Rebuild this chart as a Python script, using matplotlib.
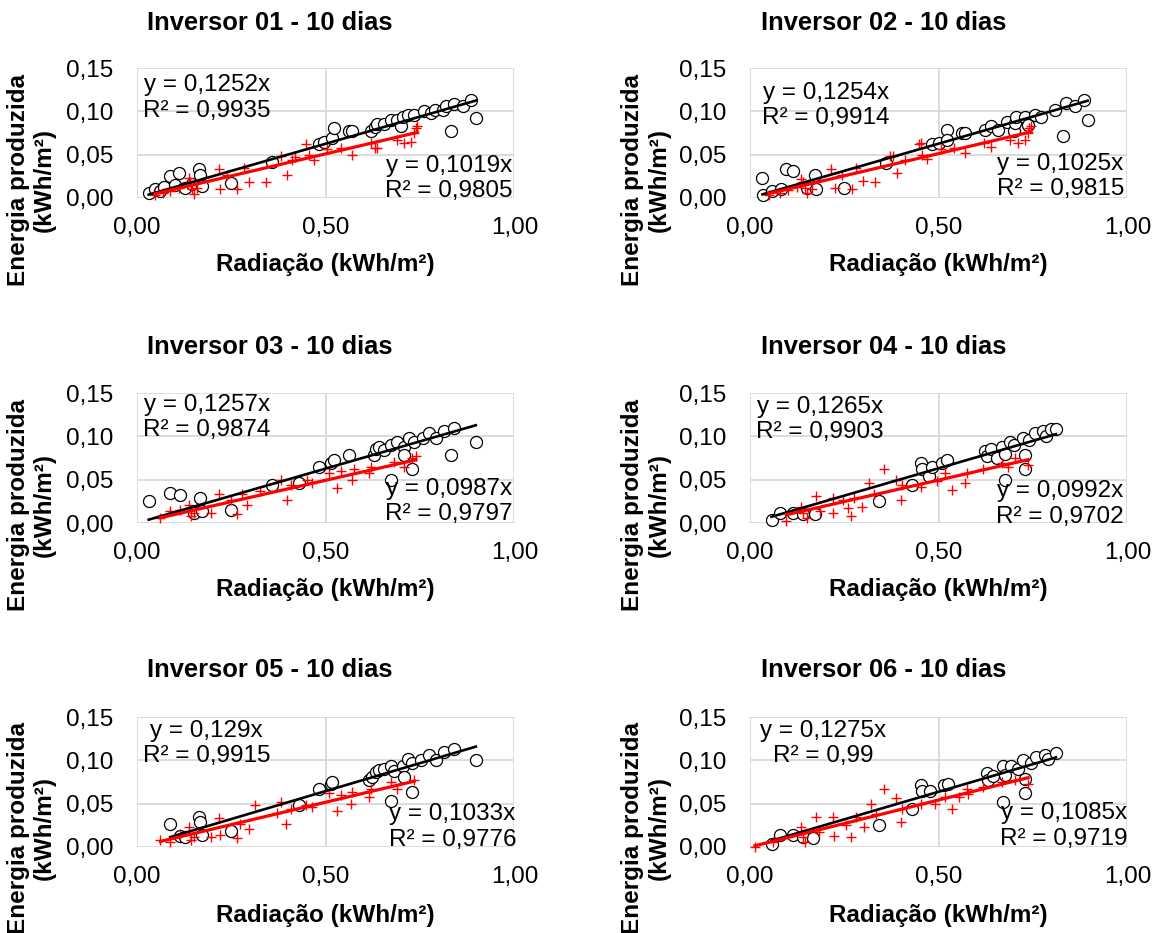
import matplotlib
matplotlib.use("Agg")
import matplotlib.pyplot as plt
from matplotlib.ticker import FuncFormatter

plt.rcParams['font.family'] = ['Liberation Sans', 'DejaVu Sans']

titles = ["Inversor 01 - 10 dias", "Inversor 02 - 10 dias", "Inversor 03 - 10 dias",
          "Inversor 04 - 10 dias", "Inversor 05 - 10 dias", "Inversor 06 - 10 dias"]
x_label = "Radiação (kWh/m²)"
y_label = "Energia produzida\n(kWh/m²)"

# trendline labels (y = a x, R²)
slope_circ = [0.1252, 0.1254, 0.1257, 0.1265, 0.129, 0.1275]
r2_circ = ["0,9935", "0,9914", "0,9874", "0,9903", "0,9915", "0,99"]
slope_plus = [0.1019, 0.1025, 0.0987, 0.0992, 0.1033, 0.1085]
r2_plus = ["0,9805", "0,9815", "0,9797", "0,9702", "0,9776", "0,9719"]

# open circles (x = radiação, y = energia), one list per inverter
circ_x = [
    [0.031, 0.049, 0.060, 0.071, 0.088, 0.100, 0.111, 0.128, 0.145, 0.164, 0.168, 0.173, 0.248, 0.358,
     0.482, 0.496, 0.518, 0.522, 0.562, 0.571, 0.619, 0.630, 0.637, 0.655, 0.673, 0.690, 0.700, 0.704,
     0.717, 0.735, 0.761, 0.779, 0.790, 0.810, 0.819, 0.832, 0.841, 0.863, 0.885, 0.898],
    [0.033, 0.035, 0.057, 0.083, 0.096, 0.114, 0.150, 0.171, 0.175, 0.250, 0.360, 0.482, 0.500, 0.522,
     0.522, 0.561, 0.570, 0.623, 0.640, 0.658, 0.680, 0.700, 0.702, 0.706, 0.728, 0.737, 0.754, 0.772,
     0.807, 0.829, 0.838, 0.860, 0.886, 0.895],
    [0.031, 0.088, 0.113, 0.150, 0.168, 0.173, 0.248, 0.358, 0.429, 0.482, 0.513, 0.522, 0.562, 0.628,
     0.633, 0.642, 0.655, 0.673, 0.673, 0.690, 0.708, 0.708, 0.721, 0.730, 0.735, 0.757, 0.774, 0.792,
     0.814, 0.832, 0.841, 0.898],
    [0.057, 0.079, 0.114, 0.140, 0.171, 0.342, 0.430, 0.452, 0.456, 0.474, 0.482, 0.509, 0.522, 0.623,
     0.627, 0.640, 0.654, 0.667, 0.675, 0.675, 0.689, 0.700, 0.724, 0.728, 0.728, 0.740, 0.754, 0.776,
     0.785, 0.798, 0.811],
    [0.088, 0.115, 0.128, 0.164, 0.168, 0.173, 0.248, 0.429, 0.482, 0.513, 0.518, 0.615, 0.624, 0.633,
     0.642, 0.655, 0.673, 0.673, 0.680, 0.704, 0.708, 0.717, 0.730, 0.730, 0.752, 0.774, 0.792, 0.814,
     0.841, 0.898],
    [0.057, 0.079, 0.114, 0.140, 0.167, 0.342, 0.430, 0.452, 0.456, 0.478, 0.513, 0.526, 0.627, 0.632,
     0.645, 0.671, 0.671, 0.675, 0.693, 0.710, 0.724, 0.728, 0.728, 0.745, 0.759, 0.781, 0.790, 0.811],
]
circ_y = [
    [0.006, 0.010, 0.008, 0.013, 0.025, 0.015, 0.029, 0.012, 0.016, 0.033, 0.027, 0.014, 0.017, 0.042,
     0.062, 0.065, 0.069, 0.081, 0.077, 0.077, 0.077, 0.082, 0.085, 0.085, 0.090, 0.090, 0.083, 0.094,
     0.096, 0.096, 0.100, 0.098, 0.101, 0.102, 0.106, 0.077, 0.108, 0.106, 0.113, 0.092],
    [0.023, 0.004, 0.008, 0.010, 0.033, 0.031, 0.012, 0.027, 0.010, 0.012, 0.040, 0.062, 0.064, 0.079,
     0.067, 0.075, 0.075, 0.079, 0.083, 0.079, 0.088, 0.077, 0.086, 0.094, 0.094, 0.084, 0.096, 0.094,
     0.102, 0.071, 0.110, 0.106, 0.113, 0.090],
    [0.025, 0.035, 0.032, 0.012, 0.029, 0.014, 0.015, 0.044, 0.046, 0.065, 0.069, 0.073, 0.079, 0.079,
     0.085, 0.088, 0.084, 0.090, 0.050, 0.094, 0.088, 0.079, 0.098, 0.062, 0.094, 0.098, 0.104, 0.098,
     0.106, 0.079, 0.110, 0.094],
    [0.004, 0.012, 0.012, 0.011, 0.010, 0.025, 0.044, 0.069, 0.062, 0.054, 0.065, 0.069, 0.073, 0.083,
     0.077, 0.085, 0.075, 0.088, 0.080, 0.050, 0.094, 0.090, 0.098, 0.079, 0.062, 0.096, 0.104, 0.106,
     0.100, 0.108, 0.108],
    [0.026, 0.013, 0.012, 0.035, 0.029, 0.014, 0.018, 0.048, 0.067, 0.073, 0.075, 0.077, 0.081, 0.087,
     0.089, 0.090, 0.094, 0.053, 0.088, 0.094, 0.081, 0.102, 0.097, 0.064, 0.100, 0.106, 0.100, 0.110,
     0.113, 0.100],
    [0.004, 0.014, 0.014, 0.012, 0.010, 0.025, 0.044, 0.071, 0.065, 0.065, 0.071, 0.073, 0.085, 0.077,
     0.082, 0.094, 0.052, 0.083, 0.094, 0.090, 0.100, 0.079, 0.062, 0.097, 0.104, 0.106, 0.102, 0.108],
]

# red crosses
plus_x = [
    [0.049, 0.070, 0.088, 0.110, 0.137, 0.140, 0.142, 0.146, 0.150, 0.160, 0.217, 0.221, 0.239, 0.265,
     0.283, 0.296, 0.341, 0.381, 0.398, 0.412, 0.420, 0.447, 0.456, 0.469, 0.504, 0.540, 0.571, 0.619,
     0.630, 0.637, 0.690, 0.708, 0.726, 0.735, 0.739, 0.743],
    [0.050, 0.080, 0.100, 0.125, 0.135, 0.140, 0.145, 0.150, 0.165, 0.215, 0.225, 0.245, 0.270, 0.280,
     0.300, 0.330, 0.370, 0.380, 0.390, 0.410, 0.447, 0.452, 0.455, 0.470, 0.505, 0.540, 0.570, 0.620,
     0.640, 0.690, 0.710, 0.730, 0.737, 0.740, 0.745],
    [0.062, 0.088, 0.115, 0.137, 0.142, 0.150, 0.195, 0.217, 0.248, 0.265, 0.279, 0.292, 0.327, 0.381,
     0.398, 0.407, 0.451, 0.465, 0.509, 0.531, 0.540, 0.571, 0.575, 0.615, 0.619, 0.681, 0.708, 0.730,
     0.739],
    [0.096, 0.136, 0.140, 0.150, 0.175, 0.185, 0.219, 0.219, 0.246, 0.259, 0.268, 0.275, 0.298, 0.316,
     0.329, 0.355, 0.386, 0.399, 0.403, 0.452, 0.496, 0.518, 0.535, 0.570, 0.575, 0.618, 0.667, 0.684,
     0.702, 0.737],
    [0.062, 0.088, 0.115, 0.137, 0.142, 0.150, 0.195, 0.217, 0.221, 0.274, 0.265, 0.296, 0.314, 0.372,
     0.381, 0.394, 0.407, 0.447, 0.465, 0.509, 0.531, 0.540, 0.566, 0.571, 0.615, 0.619, 0.673, 0.690,
     0.735],
    [0.013, 0.061, 0.136, 0.140, 0.145, 0.175, 0.184, 0.219, 0.223, 0.254, 0.268, 0.281, 0.303, 0.320,
     0.333, 0.355, 0.386, 0.399, 0.403, 0.452, 0.491, 0.518, 0.535, 0.553, 0.575, 0.579, 0.618, 0.667,
     0.702, 0.737],
]
plus_y = [
    [0.004, 0.006, 0.008, 0.012, 0.023, 0.018, 0.015, 0.010, 0.005, 0.012, 0.033, 0.010, 0.027, 0.010,
     0.035, 0.019, 0.019, 0.048, 0.027, 0.044, 0.047, 0.062, 0.050, 0.044, 0.056, 0.058, 0.050, 0.064,
     0.058, 0.058, 0.067, 0.064, 0.065, 0.075, 0.081, 0.083],
    [0.003, 0.006, 0.009, 0.013, 0.022, 0.018, 0.012, 0.006, 0.010, 0.033, 0.011, 0.027, 0.010, 0.035,
     0.020, 0.019, 0.048, 0.048, 0.029, 0.044, 0.062, 0.064, 0.050, 0.045, 0.057, 0.058, 0.052, 0.064,
     0.059, 0.067, 0.064, 0.067, 0.075, 0.081, 0.083],
    [0.006, 0.014, 0.015, 0.021, 0.008, 0.012, 0.012, 0.033, 0.027, 0.010, 0.033, 0.021, 0.037, 0.050,
     0.027, 0.044, 0.050, 0.046, 0.058, 0.040, 0.060, 0.050, 0.062, 0.058, 0.065, 0.071, 0.065, 0.075,
     0.077],
    [0.002, 0.019, 0.012, 0.006, 0.031, 0.014, 0.029, 0.012, 0.027, 0.017, 0.008, 0.029, 0.019, 0.046,
     0.033, 0.062, 0.050, 0.027, 0.044, 0.042, 0.048, 0.058, 0.038, 0.046, 0.058, 0.062, 0.069, 0.065,
     0.075, 0.067],
    [0.008, 0.006, 0.015, 0.023, 0.008, 0.012, 0.012, 0.033, 0.014, 0.027, 0.010, 0.021, 0.048, 0.039,
     0.052, 0.027, 0.044, 0.048, 0.046, 0.062, 0.042, 0.060, 0.050, 0.064, 0.058, 0.067, 0.075, 0.067,
     0.077],
    [0.000, 0.006, 0.023, 0.012, 0.006, 0.035, 0.017, 0.035, 0.013, 0.025, 0.012, 0.035, 0.023, 0.050,
     0.038, 0.067, 0.056, 0.029, 0.044, 0.050, 0.050, 0.058, 0.044, 0.058, 0.067, 0.061, 0.069, 0.075,
     0.077, 0.073],
]

# label block positions (axes fraction)
tl_pos = [(0.016, 0.77), (0.032, 0.71), (0.016, 0.81), (0.016, 0.795), (0.016, 0.795), (0.026, 0.795)]
br_pos = [(0.996, 0.148), (0.991, 0.165), (0.996, 0.166), (0.991, 0.148), (1.005, 0.154), (1.0, 0.16)]

FS = 17.5
comma = FuncFormatter(lambda v, p: f"{v:.2f}".replace('.', ','))

fig = plt.figure(figsize=(11.61, 9.33), dpi=100)

col_left = [0.118, 0.646]
row_bottom = [0.7878, 0.4394, 0.0922]
title_y = [0.975, 0.628, 0.282]
xlab_y = [0.716, 0.368, 0.019]
ylab_y = [0.807, 0.459, 0.1125]
title_x = [0.2326, 0.761]
xlab_x = [0.280, 0.808]
ylab_x = [0.027, 0.556]

for i in range(6):
    r, c = divmod(i, 2)
    ax = fig.add_axes([col_left[c], row_bottom[r], 0.325, 0.1393])
    ax.set_xlim(0, 1)
    ax.set_ylim(0, 0.15)
    ax.set_xticks([0, 0.5, 1.0])
    ax.set_yticks([0, 0.05, 0.10, 0.15])
    ax.xaxis.set_major_formatter(comma)
    ax.yaxis.set_major_formatter(comma)
    ax.tick_params(axis='both', length=0, labelsize=FS)
    ax.tick_params(axis='x', pad=14)
    ax.tick_params(axis='y', pad=17)
    for s in ax.spines.values():
        s.set_visible(False)
    ax.grid(True, color='#d9d9d9', linewidth=1.3)
    ax.set_axisbelow(True)

    ax.scatter(circ_x[i], circ_y[i], s=75, facecolors='white', edgecolors='black',
               linewidths=0.9, zorder=3, clip_on=False)
    ax.scatter(plus_x[i], plus_y[i], s=60, marker='+', color='red',
               linewidths=1.0, zorder=4, clip_on=False)

    xs = [min(circ_x[i]), max(circ_x[i])]
    ax.plot(xs, [slope_circ[i] * v for v in xs], color='black', linewidth=1.9, zorder=5)
    xs = [min(plus_x[i]), max(plus_x[i])]
    ax.plot(xs, [slope_plus[i] * v for v in xs], color='red', linewidth=2.3, zorder=6)

    eq_c = f"y = {slope_circ[i]:g}x".replace('.', ',') + f"\nR² = {r2_circ[i]}"
    eq_p = f"y = {slope_plus[i]:g}x".replace('.', ',') + f"\nR² = {r2_plus[i]}"
    ax.text(tl_pos[i][0], tl_pos[i][1], eq_c, transform=ax.transAxes, fontsize=FS,
            ha='left', va='center', multialignment='center', zorder=7)
    ax.text(br_pos[i][0], br_pos[i][1], eq_p, transform=ax.transAxes, fontsize=FS,
            ha='right', va='center', multialignment='center', zorder=7)

    fig.text(title_x[c], title_y[r], titles[i], fontsize=18.4, fontweight='bold',
             ha='center', va='center')
    fig.text(xlab_x[c], xlab_y[r], x_label, fontsize=FS, fontweight='bold',
             ha='center', va='center')
    fig.text(ylab_x[c], ylab_y[r], y_label, fontsize=FS, fontweight='bold',
             ha='center', va='center', rotation=90, multialignment='center')

fig.savefig("out.png", dpi=100)
